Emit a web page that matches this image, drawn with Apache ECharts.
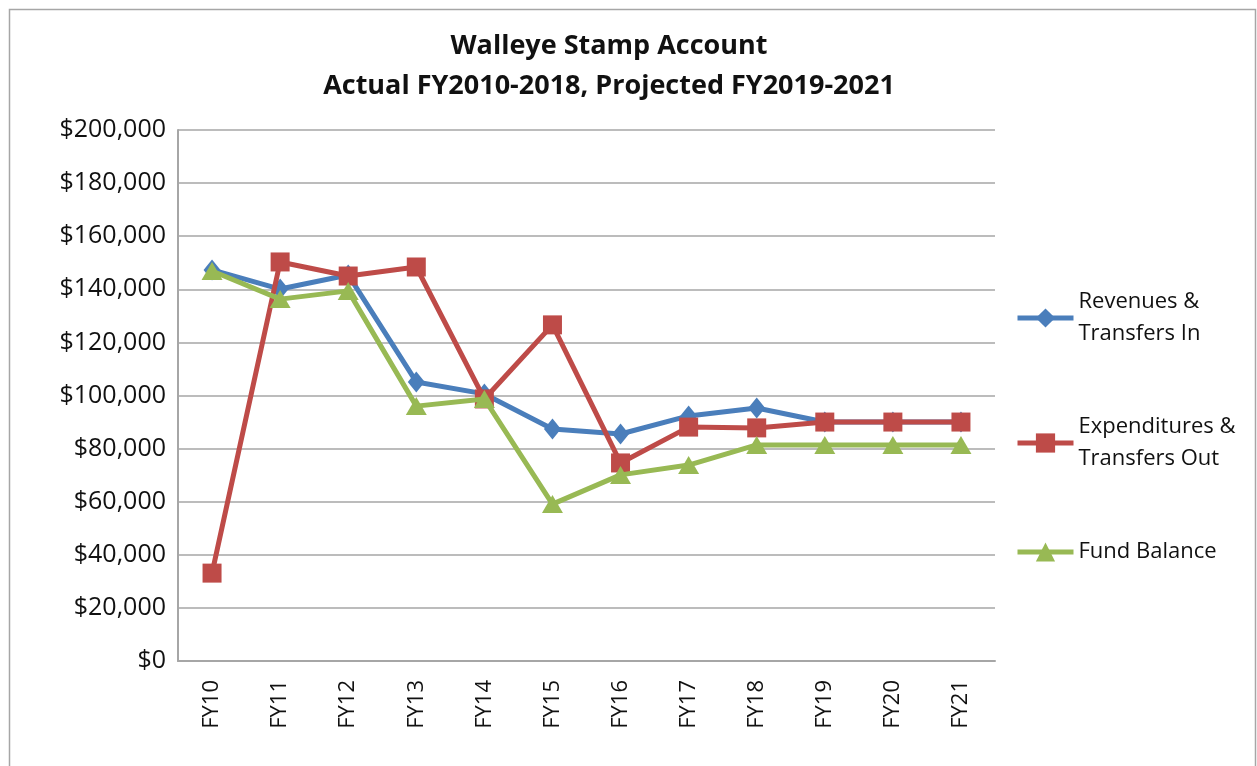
<!DOCTYPE html>
<html><head><meta charset="utf-8">
<script src="https://cdn.jsdelivr.net/npm/echarts@6/dist/echarts.min.js"></script>
<style>html,body{margin:0;padding:0;background:#fff}#c{width:1257px;height:766px}</style>
</head><body><div id="c"></div>
<script>
var categories = ['FY10','FY11','FY12','FY13','FY14','FY15','FY16','FY17','FY18','FY19','FY20','FY21'];
var revenues = [147300,140100,145400,105100,100600,87400,85500,92300,95300,90000,90000,90000];
var expenditures = [33100,150300,145000,148400,98700,126600,74600,88100,87800,90000,90000,90000];
var fundBalance = [146900,136300,139400,96000,98700,59100,70100,73800,81400,81400,81400,81400];
var seriesNames = ['Revenues &\nTransfers In','Expenditures &\nTransfers Out','Fund Balance'];
var titleLines = 'Walleye Stamp Account\nActual FY2010-2018, Projected FY2019-2021';

var FONT = '"Open Sans", Lato, sans-serif';
var chart = echarts.init(document.getElementById('c'));
chart.setOption({
  animation: false,
  backgroundColor: '#fff',
  graphic: [{type:'rect', left:7, top:7, shape:{width:1246, height:780}, style:{fill:'none', stroke:'#a6a6a6', lineWidth:1.5}, silent:true}],
  title: {text: titleLines, left: 604, textAlign:'center', top: 21,
    textStyle:{fontFamily:FONT, fontWeight:'bold', fontSize:27, lineHeight:40, color:'#111'}},
  grid: {left:178, right:262, top:130, bottom:105},
  legend: {orient:'vertical', left:1010, top:281, itemGap:61, itemWidth:56, itemHeight:24,
    lineStyle:{width:5},
    textStyle:{fontFamily:FONT, fontSize:22, lineHeight:32, color:'#111'},
    data: seriesNames},
  xAxis: {type:'category', data:categories, boundaryGap:true,
    axisLine:{lineStyle:{color:'#a6a6a6', width:2}}, axisTick:{show:false},
    axisLabel:{rotate:90, fontFamily:FONT, fontSize:22, color:'#111', margin:19}},
  yAxis: {type:'value', min:0, max:200000, interval:20000,
    axisLine:{show:true, lineStyle:{color:'#a6a6a6', width:2}}, axisTick:{show:false},
    splitLine:{lineStyle:{color:'#a6a6a6', width:1.5}},
    axisLabel:{fontFamily:FONT, fontSize:25, color:'#111', margin:12,
      formatter:function(v){return '$'+v.toLocaleString('en-US');}}},
  series: [
    {name:seriesNames[0], type:'line', data:revenues, symbol:'diamond', symbolSize:[17,21],
      lineStyle:{width:5, color:'#4a7ebb'}, itemStyle:{color:'#4a7ebb'}, z:2},
    {name:seriesNames[1], type:'line', data:expenditures, symbol:'rect', symbolSize:19,
      lineStyle:{width:5, color:'#be4b48'}, itemStyle:{color:'#be4b48'}, z:3},
    {name:seriesNames[2], type:'line', data:fundBalance, symbol:'triangle', symbolSize:[21,18],
      lineStyle:{width:5, color:'#98b954'}, itemStyle:{color:'#98b954'}, z:4}
  ]
});
</script></body></html>
